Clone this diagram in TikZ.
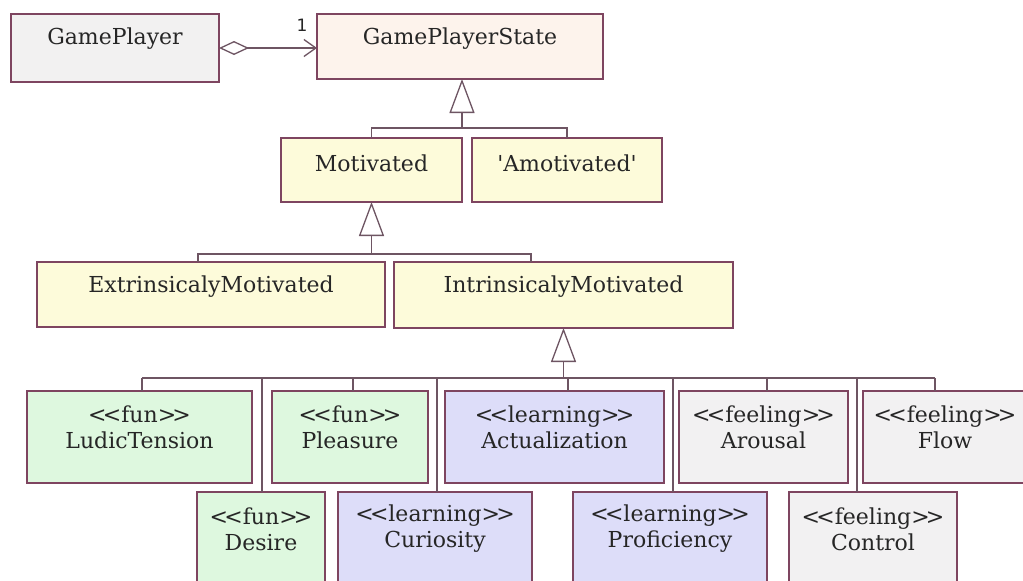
\documentclass[tikz,border=0pt]{standalone}
\usepackage{fontspec}
\newfontfamily\umlfont{DejaVu Serif}[Ligatures=TeXOff]
\newfontfamily\numfont{DejaVu Sans}
\usetikzlibrary{arrows.meta}
\definecolor{bord}{HTML}{7E4560}
\definecolor{conn}{HTML}{6E5563}
\definecolor{cgrey}{HTML}{F2F1F1}
\definecolor{cpeach}{HTML}{FDF3EC}
\definecolor{cyellow}{HTML}{FDFBDA}
\definecolor{cgreen}{HTML}{DEF8DF}
\definecolor{clav}{HTML}{DDDDF9}
\definecolor{cfeel}{HTML}{F2F1F2}
\definecolor{ctext}{HTML}{262626}
\newcommand\stl{<\kern-.17em<}
\newcommand\str{>\kern-.17em>}
\newcommand\mkbox[6]{\node[umlbox, fill=#6, minimum width={#3-#2}, minimum height={#5-#4}] (#1) at ({(#2+#3)/2},{(#4+#5)/2}) {};}
\begin{document}
\begin{tikzpicture}[x=1pt,y=-1pt,
  umlbox/.style={draw=bord, line width=1.6pt, rectangle, inner sep=0pt, outer sep=0pt},
  umltext/.style={font=\umlfont\fontsize{22}{27}\selectfont, align=center, text=ctext, inner sep=0pt},
  umltwo/.style={font=\umlfont\fontsize{22}{26}\selectfont, align=center, text=ctext, inner sep=0pt},
  link/.style={draw=conn, line width=1.3pt},
  gen/.style={link, -{Triangle[open, length=34pt, width=25pt, line width=1.3pt]}},
]
\useasboundingbox (0,0) rectangle (1023,581);
\clip (0,0) rectangle (1023,581);
\fill[white] (0,0) rectangle (1023,581);

% boxes
\mkbox{gp}{11}{219}{14}{82}{cgrey}
\mkbox{gps}{317}{603}{14}{79}{cpeach}
\mkbox{mot}{281}{462}{138}{202}{cyellow}
\mkbox{amot}{472}{662}{138}{202}{cyellow}
\mkbox{ext}{37}{385}{262}{327}{cyellow}
\mkbox{intr}{394}{733}{262}{328}{cyellow}
\mkbox{ludic}{27}{252}{391}{483}{cgreen}
\mkbox{pleas}{272}{428}{391}{483}{cgreen}
\mkbox{actual}{445}{664}{391}{483}{clav}
\mkbox{arousal}{679}{848}{391}{483}{cfeel}
\mkbox{flow}{863}{1027}{391}{483}{cfeel}
\mkbox{desire}{197}{325}{492}{610}{cgreen}
\mkbox{curio}{338}{532}{492}{610}{clav}
\mkbox{profic}{573}{767}{492}{610}{clav}
\mkbox{control}{789}{957}{492}{610}{cfeel}

% texts
\node[umltext] (gpT) at ([yshift=-25pt]gp.north) {GamePlayer};
\node[umltext] (gpsT) at ([yshift=-25pt]gps.north) {GamePlayerState};
\node[umltext] (motT) at ([yshift=-25pt]mot.north) {Motivated};
\node[umltext] (amotT) at ([yshift=-25pt]amot.north) {'Amotivated'};
\node[umltext] (extT) at ([yshift=-25pt]ext.north) {ExtrinsicalyMotivated};
\node[umltext] (intrT) at ([yshift=-25pt]intr.north) {IntrinsicalyMotivated};
\node[umltwo] (ludicT) at ([yshift=-36pt]ludic.north) {\stl fun\str\\LudicTension};
\node[umltwo] (pleasT) at ([yshift=-36pt]pleas.north) {\stl fun\str\\Pleasure};
\node[umltwo] (actualT) at ([yshift=-36pt]actual.north) {\stl learning\str\\Actualization};
\node[umltwo] (arousalT) at ([yshift=-36pt]arousal.north) {\stl feeling\str\\Arousal};
\node[umltwo] (flowT) at ([yshift=-36pt]flow.north) {\stl feeling\str\\Flow};
\node[umltwo] (desireT) at ([yshift=-37pt]desire.north) {\stl fun\str\\Desire};
\node[umltwo] (curioT) at ([yshift=-37pt]curio.north) {\stl learning\str\\Curiosity};
\node[umltwo] (proficT) at ([yshift=-37pt]profic.north) {\stl learning\str\\Proficiency};
\node[umltwo] (controlT) at ([yshift=-37pt]control.north) {\stl feeling\str\\Control};

% association
\coordinate (aend) at (gp.east -| gps.west);
\draw[link, {Diamond[open, length=30pt, width=14pt, line width=1.3pt]}-{Straight Barb[length=12pt, width=17pt, line width=1.3pt]}] (gp.east) -- (aend);
\node[font=\numfont\fontsize{17}{17}\selectfont, text=ctext, inner sep=0pt] (mult) at ([xshift=-15pt, yshift=23pt]aend) {1};

% generalization 1
\coordinate (bus1) at (462,128);
\draw[gen] (bus1) -- (bus1 |- gps.south);
\draw[link] (mot.north) -- (mot.north |- bus1) -- (amot.north |- bus1) -- (amot.north);

% generalization 2
\coordinate (bus2a) at (198,254);
\coordinate (bus2b) at (531,254);
\draw[gen] (mot.south |- bus2a) -- (mot.south);
\draw[link] (ext.north -| bus2a) -- (bus2a) -- (bus2b) -- (intr.north -| bus2b);

% generalization 3
\coordinate (bus3a) at (142,378);
\coordinate (bus3b) at (935,378);
\draw[gen] (intr.south |- bus3a) -- (intr.south);
\draw[link] (bus3a) -- (bus3b);
\draw[link] (ludic.north -| bus3a) -- (bus3a);
\draw[link] ([xshift=1pt]desire.north) -- ([xshift=1pt]desire.north |- bus3a);
\draw[link] ([xshift=3pt]pleas.north) -- ([xshift=3pt]pleas.north |- bus3a);
\draw[link] ([xshift=2pt]curio.north) -- ([xshift=2pt]curio.north |- bus3a);
\draw[link] ([xshift=13.5pt]actual.north) -- ([xshift=13.5pt]actual.north |- bus3a);
\draw[link] ([xshift=3pt]profic.north) -- ([xshift=3pt]profic.north |- bus3a);
\draw[link] ([xshift=3.5pt]arousal.north) -- ([xshift=3.5pt]arousal.north |- bus3a);
\draw[link] ([xshift=-16pt]control.north) -- ([xshift=-16pt]control.north |- bus3a);
\draw[link] (flow.north -| bus3b) -- (bus3b);
\end{tikzpicture}
\end{document}
